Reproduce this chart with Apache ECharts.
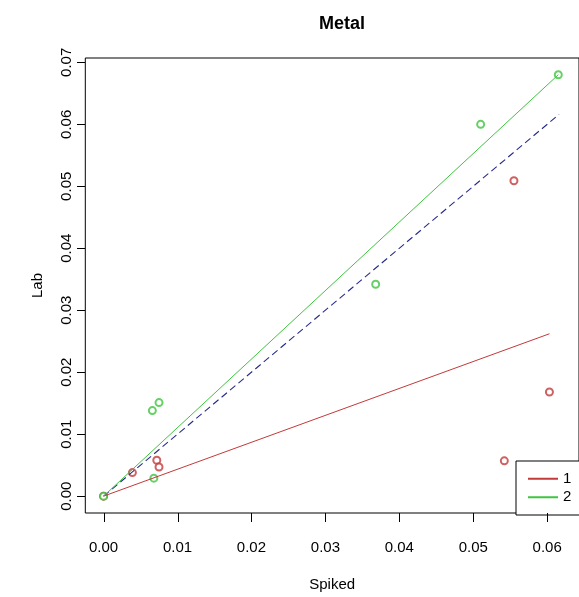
<!DOCTYPE html>
<html>
<head>
<meta charset="utf-8">
<script src="https://cdn.jsdelivr.net/npm/echarts@6/dist/echarts.min.js"></script>
<style>
html,body{margin:0;padding:0;background:#fff;}
#chart{width:579px;height:597px;}
</style>
</head>
<body>
<div id="chart"></div>
<script>
// ---- data ----
var group1X = [0, 0.0039, 0.0072, 0.0075, 0.0542, 0.0555, 0.0603];
var group1Y = [0, 0.0038, 0.0058, 0.0047, 0.0057, 0.0509, 0.0168];
var group2X = [0, 0.0068, 0.0066, 0.0075, 0.0368, 0.0510, 0.0615];
var group2Y = [0, 0.0029, 0.0138, 0.0151, 0.0342, 0.0600, 0.0680];
var fit1X = [0, 0.0603];
var fit1Y = [0, 0.0262];
var fit2X = [0, 0.0615];
var fit2Y = [0, 0.0680];
var identityX = [0, 0.0616];
var identityY = [0, 0.0616];
var xTicks = [0, 0.01, 0.02, 0.03, 0.04, 0.05, 0.06];
var yTicks = [0, 0.01, 0.02, 0.03, 0.04, 0.05, 0.06, 0.07];
var legendNames = ['1', '2'];

function pairs(xs, ys) { return xs.map(function (x, i) { return [x, ys[i]]; }); }

var X_MIN = -0.00247, X_MAX = 0.0643;
var Y_MIN = -0.00272, Y_MAX = 0.0707;
var RED = '#c23a3a';
var GREEN = '#3fc43f';
var BLUE = '#262a88';
var FONT = 'Liberation Sans, Arial, sans-serif';

var chart = echarts.init(document.getElementById('chart'), null, {renderer: 'canvas'});
chart.setOption({
  animation: false,
  backgroundColor: '#fff',
  title: {
    text: 'Metal', left: 337, top: 10, textAlign: 'center',
    textStyle: {fontFamily: FONT, fontSize: 18, fontWeight: 'bold', color: '#000'}
  },
  grid: {
    left: 85.3, top: 58, right: -10.5, bottom: 81,
    show: true, borderColor: '#000', borderWidth: 1, backgroundColor: 'transparent'
  },
  legend: {
    data: legendNames,
    orient: 'vertical',
    left: 516, top: 461,
    padding: [9, 40, 9, 12],
    itemGap: 1,
    itemWidth: 30, itemHeight: 2,
    icon: 'rect',
    borderColor: '#000', borderWidth: 1, borderRadius: 0,
    backgroundColor: '#fff',
    textStyle: {fontFamily: FONT, fontSize: 15, color: '#000', lineHeight: 17.5}
  },
  xAxis: {
    type: 'value', min: X_MIN, max: X_MAX,
    name: 'Spiked', nameLocation: 'middle', nameGap: 64,
    nameTextStyle: {fontFamily: FONT, fontSize: 15, color: '#000'},
    axisLine: {show: false, onZero: false},
    axisTick: {show: false},
    axisLabel: {customValues: xTicks, margin: 27, fontFamily: FONT, fontSize: 15, color: '#000',
      formatter: function (v) { return v.toFixed(2); }},
    splitLine: {show: false}
  },
  yAxis: {
    type: 'value', min: Y_MIN, max: Y_MAX,
    name: 'Lab', nameLocation: 'middle', nameGap: 40, nameRotate: 90,
    nameTextStyle: {fontFamily: FONT, fontSize: 15, color: '#000'},
    axisLine: {show: false, onZero: false},
    axisTick: {show: false},
    axisLabel: {customValues: yTicks, rotate: 90, margin: 11, fontFamily: FONT, fontSize: 15, color: '#000',
      formatter: function (v) { return v.toFixed(2); }},
    splitLine: {show: false}
  },
  series: [
    {name: 'pts1', type: 'scatter', data: pairs(group1X, group1Y), symbol: 'emptyCircle', symbolSize: 7,
      itemStyle: {color: RED, borderColor: RED, borderWidth: 1}, z: 3},
    {name: 'pts2', type: 'scatter', data: pairs(group2X, group2Y), symbol: 'emptyCircle', symbolSize: 7,
      itemStyle: {color: GREEN, borderColor: GREEN, borderWidth: 1}, z: 3},
    {name: 'identity', type: 'line', data: pairs(identityX, identityY), showSymbol: false, symbol: 'none',
      lineStyle: {color: BLUE, width: 1.1, type: [7, 4]}, z: 4},
    {name: '1', type: 'line', data: pairs(fit1X, fit1Y), showSymbol: false, symbol: 'none',
      itemStyle: {color: RED}, lineStyle: {color: RED, width: 1}, z: 4},
    {name: '2', type: 'line', data: pairs(fit2X, fit2Y), showSymbol: false, symbol: 'none',
      itemStyle: {color: GREEN}, lineStyle: {color: GREEN, width: 1}, z: 4}
  ]
});

// Tick marks placed through the chart's own axis scales
var tickEls = [];
xTicks.forEach(function (v) {
  var p = chart.convertToPixel({gridIndex: 0}, [v, Y_MIN]);
  var x = Math.round(p[0]) + 0.5, y = Math.round(p[1]);
  tickEls.push({type: 'line', silent: true, z: 10,
    shape: {x1: x, y1: y, x2: x, y2: y + 9}, style: {stroke: '#000', lineWidth: 1}});
});
yTicks.forEach(function (v) {
  var p = chart.convertToPixel({gridIndex: 0}, [X_MIN, v]);
  var x = Math.round(p[0]), y = Math.round(p[1]) + 0.5;
  tickEls.push({type: 'line', silent: true, z: 10,
    shape: {x1: x, y1: y, x2: x - 8, y2: y}, style: {stroke: '#000', lineWidth: 1}});
});
chart.setOption({graphic: tickEls});
</script>
</body>
</html>
